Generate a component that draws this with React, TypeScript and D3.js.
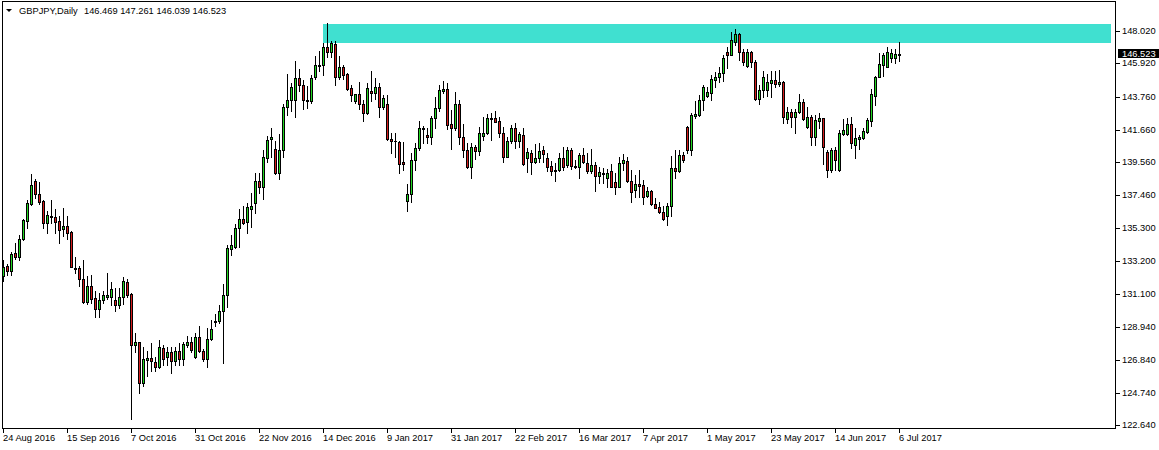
import { useEffect, useRef } from 'react'
import * as d3 from 'd3'

const W = 1159
const H = 450

// GBPJPY daily, 24 Aug 2016 .. 6 Jul 2017
const opens = [
  132.23, 132.88, 132.54, 133.69, 133.47, 134.59, 135.79, 136.86, 138.34, 137.49,
  137.04, 135.66, 136.05, 136.01, 135.75, 135.24, 135.45, 135.08, 132.75, 132.73,
  132.06, 130.58, 131.59, 130.82, 130.09, 130.69, 130.90, 130.86, 130.69, 130.39,
  130.86, 131.85, 131.08, 127.82, 127.99, 125.33, 126.83, 126.96, 126.70, 126.40,
  127.58, 127.01, 127.35, 126.75, 127.39, 126.92, 127.82, 127.99, 127.01, 128.29,
  127.43, 126.92, 128.20, 129.28, 129.36, 130.00, 130.99, 133.99, 134.12, 135.30,
  135.88, 135.69, 136.56, 136.91, 138.32, 137.98, 139.80, 141.02, 140.38, 138.84,
  140.34, 143.08, 143.55, 143.55, 144.95, 144.51, 143.55, 143.47, 145.05, 145.76,
  145.78, 146.94, 146.66, 147.13, 145.05, 145.65, 145.22, 144.30, 143.51, 143.94,
  143.29, 142.73, 144.15, 144.02, 144.37, 143.08, 143.29, 141.06, 140.89, 140.85,
  139.55, 137.08, 137.51, 139.69, 140.46, 141.75, 141.30, 141.19, 142.37, 143.02,
  144.15, 144.24, 141.99, 141.77, 143.27, 141.19, 140.32, 139.22, 140.51, 140.29,
  141.25, 141.41, 142.37, 142.37, 142.18, 141.41, 139.90, 140.91, 141.73, 140.93,
  141.30, 139.80, 140.12, 139.54, 139.80, 140.34, 139.80, 139.31, 138.98, 139.05,
  139.80, 139.37, 140.34, 139.31, 139.26, 140.01, 139.48, 139.00, 139.35, 138.68,
  138.84, 138.52, 138.98, 138.26, 137.98, 139.48, 139.61, 138.36, 137.76, 138.15,
  138.08, 137.38, 137.70, 136.84, 136.65, 136.33, 136.11, 136.75, 139.18, 139.00,
  139.99, 141.79, 140.34, 142.52, 142.61, 143.55, 143.81, 144.02, 144.84, 145.01,
  145.27, 146.62, 146.46, 147.30, 147.78, 146.66, 145.74, 146.66, 146.01, 143.60,
  144.19, 144.19, 144.66, 144.84, 144.58, 144.71, 142.31, 142.76, 142.48, 142.76,
  143.44, 141.79, 142.48, 141.15, 142.22, 142.37, 140.19, 139.05, 140.34, 139.05,
  141.36, 141.36, 141.99, 140.66, 141.06, 141.09, 141.51, 142.22, 143.83, 145.05,
  145.80, 145.69, 146.23, 146.23, 146.469,
]
const highs = [
  133.26, 133.00, 133.80, 134.34, 134.85, 135.88, 137.12, 138.79, 138.47, 138.26,
  137.12, 136.41, 137.12, 136.56, 136.09, 136.59, 136.09, 135.15, 133.44, 132.88,
  133.26, 132.23, 132.30, 131.29, 131.16, 131.29, 132.41, 131.87, 131.44, 131.44,
  132.19, 132.02, 131.16, 128.55, 128.01, 127.69, 127.43, 127.94, 127.04, 128.12,
  127.82, 127.69, 127.65, 127.65, 127.91, 127.99, 128.38, 128.33, 128.55, 129.02,
  127.56, 128.89, 129.40, 129.79, 130.35, 131.72, 134.25, 134.85, 135.58, 136.52,
  136.73, 136.91, 137.59, 138.84, 138.84, 140.34, 141.24, 141.73, 140.89, 141.36,
  143.29, 145.22, 144.62, 146.04, 145.56, 144.84, 144.45, 145.16, 146.38, 146.72,
  147.20, 148.48, 147.36, 147.32, 146.38, 145.82, 145.27, 144.51, 143.95, 144.71,
  143.55, 144.66, 145.43, 144.95, 144.62, 143.87, 143.87, 141.45, 141.45, 140.93,
  140.87, 138.15, 140.12, 140.77, 142.18, 141.88, 141.73, 142.52, 143.72, 144.50,
  144.75, 144.62, 142.91, 144.08, 143.55, 141.99, 140.77, 140.80, 140.66, 141.83,
  142.44, 142.65, 142.69, 142.86, 142.48, 141.83, 141.15, 141.92, 142.09, 141.51,
  141.77, 140.44, 140.34, 140.72, 140.77, 140.61, 140.12, 139.63, 139.48, 140.12,
  140.51, 140.51, 140.44, 139.69, 140.16, 140.44, 140.12, 140.42, 139.58, 139.26,
  139.16, 139.09, 139.43, 138.84, 139.90, 140.06, 139.90, 139.05, 138.73, 139.05,
  138.41, 137.98, 137.76, 137.27, 137.01, 136.75, 136.95, 139.97, 140.34, 140.34,
  140.23, 141.90, 142.69, 143.51, 143.87, 144.51, 144.41, 145.16, 145.37, 145.69,
  146.46, 146.98, 147.90, 148.12, 147.84, 146.81, 146.81, 146.72, 146.12, 144.51,
  145.42, 145.22, 145.42, 145.43, 145.48, 144.77, 143.08, 142.95, 142.95, 143.92,
  143.59, 143.08, 142.59, 142.59, 142.73, 142.41, 140.34, 140.44, 140.55, 141.62,
  142.31, 142.37, 142.48, 141.73, 141.30, 141.77, 142.37, 144.24, 145.09, 146.55,
  146.59, 146.94, 146.81, 146.81, 147.261,
]
const lows = [
  131.93, 132.32, 132.32, 133.31, 133.26, 134.55, 135.34, 136.80, 137.27, 136.84,
  135.34, 134.98, 135.66, 135.02, 134.37, 134.81, 134.59, 132.79, 132.41, 131.61,
  130.52, 130.43, 130.52, 129.62, 129.58, 130.48, 130.74, 130.35, 130.00, 130.16,
  130.43, 130.90, 123.04, 127.37, 124.73, 125.16, 125.80, 126.14, 126.14, 126.35,
  126.53, 126.53, 126.02, 126.53, 126.53, 126.53, 127.65, 127.35, 126.96, 127.35,
  126.75, 126.40, 128.12, 129.02, 129.23, 126.62, 130.22, 133.58, 134.03, 134.12,
  135.58, 134.98, 135.37, 136.27, 137.59, 137.20, 139.58, 139.90, 138.79, 138.45,
  139.90, 142.61, 142.86, 142.48, 144.15, 142.95, 143.04, 143.34, 144.88, 145.43,
  145.18, 146.33, 146.33, 144.50, 144.88, 144.88, 144.19, 143.47, 143.34, 142.99,
  142.18, 142.65, 143.51, 143.63, 142.48, 142.95, 140.98, 140.16, 139.87, 138.88,
  139.05, 136.43, 137.01, 139.05, 140.34, 140.80, 140.77, 140.72, 141.75, 142.86,
  143.98, 141.67, 140.42, 141.62, 140.70, 139.90, 139.20, 138.52, 139.78, 140.01,
  140.98, 141.36, 140.98, 142.14, 141.19, 139.58, 139.88, 140.77, 140.44, 140.51,
  139.40, 138.94, 138.77, 139.48, 139.58, 139.58, 139.00, 138.73, 138.36, 139.00,
  139.05, 139.26, 139.09, 139.16, 138.52, 139.48, 138.88, 138.84, 137.72, 138.23,
  138.23, 137.98, 137.94, 137.49, 137.94, 139.05, 138.30, 137.01, 137.33, 137.33,
  136.86, 137.33, 136.82, 136.59, 136.27, 135.83, 135.51, 136.09, 138.53, 138.94,
  139.58, 140.12, 140.01, 142.41, 142.52, 142.91, 143.76, 143.55, 144.41, 144.73,
  144.79, 145.63, 146.42, 147.09, 146.12, 145.80, 145.69, 145.69, 143.55, 143.29,
  143.76, 143.81, 143.72, 144.41, 144.45, 142.09, 142.09, 141.79, 141.45, 142.69,
  142.26, 141.73, 140.66, 140.66, 141.73, 139.43, 138.62, 138.94, 139.05, 139.02,
  141.30, 141.30, 140.48, 139.80, 140.42, 141.02, 141.41, 141.88, 143.23, 145.03,
  145.09, 145.66, 146.01, 145.95, 146.039,
]
const closes = [
  132.83, 132.54, 133.63, 133.47, 134.59, 135.83, 136.91, 138.07, 137.49, 137.01,
  135.66, 136.14, 136.09, 135.71, 135.19, 135.45, 135.02, 132.83, 132.72, 132.02,
  130.58, 131.59, 130.77, 130.09, 130.69, 131.01, 131.03, 131.38, 130.39, 130.86,
  131.89, 131.03, 127.78, 127.99, 125.33, 126.88, 126.96, 126.75, 126.40, 127.65,
  126.92, 127.35, 126.75, 127.39, 126.92, 127.86, 127.99, 127.48, 128.29, 127.43,
  126.92, 128.20, 128.84, 129.36, 130.00, 130.99, 134.01, 134.21, 135.30, 135.88,
  135.62, 136.65, 136.73, 138.32, 137.98, 139.90, 140.98, 141.19, 138.88, 140.34,
  143.08, 143.55, 144.37, 144.95, 144.50, 143.55, 143.47, 144.95, 145.78, 145.80,
  146.94, 146.66, 147.20, 145.05, 145.65, 145.18, 144.28, 143.85, 143.94, 143.29,
  142.73, 144.30, 143.98, 144.37, 143.08, 143.68, 141.02, 140.89, 140.93, 139.44,
  139.42, 137.51, 139.69, 140.46, 141.75, 141.72, 141.19, 142.39, 143.02, 144.19,
  144.24, 141.96, 141.77, 143.27, 141.19, 140.32, 139.22, 140.51, 140.29, 141.41,
  141.41, 142.37, 142.33, 142.15, 141.41, 139.90, 140.91, 141.73, 140.93, 141.36,
  139.42, 140.19, 139.54, 139.84, 140.27, 140.06, 139.26, 138.98, 139.05, 139.80,
  139.22, 140.34, 139.31, 139.28, 140.01, 139.58, 139.00, 139.35, 138.68, 138.90,
  138.78, 138.88, 137.98, 137.98, 139.48, 139.69, 138.36, 137.65, 138.13, 138.04,
  137.29, 137.70, 136.84, 136.63, 136.33, 135.88, 136.75, 139.16, 139.00, 139.99,
  139.69, 140.34, 142.57, 142.65, 143.53, 144.37, 144.06, 144.88, 145.01, 145.31,
  146.23, 146.46, 147.39, 147.78, 146.66, 146.01, 146.66, 146.01, 143.60, 144.19,
  145.01, 144.69, 144.84, 144.58, 144.71, 142.48, 142.76, 142.48, 142.76, 143.44,
  142.31, 142.48, 141.19, 142.26, 142.37, 140.55, 139.05, 140.34, 139.69, 141.41,
  141.62, 141.99, 140.77, 141.09, 141.19, 141.56, 142.26, 143.94, 145.05, 145.87,
  146.44, 146.62, 146.59, 146.51, 146.523,
]

const priceTicks = [148.02, 145.92, 143.76, 141.66, 139.56, 137.46, 135.3, 133.2, 131.1, 128.94, 126.84, 124.74, 122.64]
const holidays = ['2016-12-26', '2017-01-02']
const labelEvery = 16

// supply zone drawn on the chart (bar index from/to, price bottom/top)
const zoneBars = [80, 277]
const zonePrices = [147.22, 148.44]

const headerText = '146.469 147.261 146.039 146.523'
const lastPrice = 146.523

const BULL = '#22d622'
const BEAR = '#d41c1c'
const FONT = '"Liberation Sans", Arial, sans-serif'
const FS = 9.3

function tradingDays(n: number) {
  const out: Date[] = []
  const iso = d3.timeFormat('%Y-%m-%d')
  let d = new Date(2016, 7, 24)
  while (out.length < n) {
    const wd = d.getDay()
    if (wd !== 0 && wd !== 6 && !holidays.includes(iso(d))) out.push(d)
    d = d3.timeDay.offset(d, 1)
  }
  return out
}

export default function App() {
  const svgRef = useRef<SVGSVGElement | null>(null)

  useEffect(() => {
    const svg = d3.select(svgRef.current)
    svg.selectAll('*').remove()

    const bars = opens.map((o, i) => ({ i, o, h: highs[i], l: lows[i], c: closes[i] }))
    const dates = tradingDays(bars.length)
    const fmt = d3.timeFormat('%-d %b %Y')

    const x = d3.scaleLinear().domain([0, bars.length - 1]).range([3, 3 + 4 * (bars.length - 1)])
    const y = d3.scaleLinear().domain([122.64, 148.02]).range([425.3, 30.6]).interpolate(d3.interpolateRound)

    svg.append('rect').attr('width', W).attr('height', H).attr('fill', '#fff')

    // zone
    svg.append('rect')
      .attr('x', x(zoneBars[0]))
      .attr('y', y(zonePrices[1]))
      .attr('width', x(zoneBars[1]) - x(zoneBars[0]))
      .attr('height', y(zonePrices[0]) - y(zonePrices[1]))
      .attr('fill', '#40e0d0')

    // candles: wick, black body, coloured core
    const g = svg.append('g').attr('shape-rendering', 'crispEdges')
    bars.forEach(b => {
      const cx = x(b.i)
      const top = y(Math.max(b.o, b.c))
      const bot = y(Math.min(b.o, b.c))
      g.append('rect').attr('x', cx).attr('y', y(b.h)).attr('width', 1)
        .attr('height', Math.max(1, y(b.l) - y(b.h) + 1)).attr('fill', '#000')
      g.append('rect').attr('x', cx - 1).attr('y', top).attr('width', 3)
        .attr('height', bot - top + 1).attr('fill', '#000')
      if (bot - top > 1) {
        g.append('rect').attr('x', cx).attr('y', top + 1).attr('width', 1)
          .attr('height', bot - top - 1).attr('fill', b.c >= b.o ? BULL : BEAR)
      }
    })

    // frame
    svg.append('rect')
      .attr('x', 2.5).attr('y', 1.5).attr('width', 1113).attr('height', 427)
      .attr('fill', 'none').attr('stroke', '#000')

    // price axis
    const yAxis = svg.append('g')
      .attr('transform', 'translate(1116,0)')
      .call(d3.axisRight(y).tickValues(priceTicks).tickSize(4).tickPadding(2).tickFormat(d3.format('.3f')))
    yAxis.select('.domain').remove()
    yAxis.selectAll('text').attr('font-family', FONT).attr('font-size', FS).attr('fill', '#000')

    // time axis
    const labelIdx = bars.map(b => b.i).filter(i => i % labelEvery === 0)
    const xAxis = svg.append('g')
      .attr('transform', 'translate(0,429)')
      .call(d3.axisBottom(x).tickValues(labelIdx).tickSize(4).tickFormat((i: any) => fmt(dates[i])))
    xAxis.select('.domain').remove()
    xAxis.selectAll('text')
      .attr('font-family', FONT).attr('font-size', FS).attr('fill', '#000')
      .attr('text-anchor', 'start').attr('x', -0.5).attr('y', 12).attr('dy', 0)

    // last price marker
    const ly = y(lastPrice)
    svg.append('rect').attr('x', 1118).attr('y', ly - 5).attr('width', 41).attr('height', 9).attr('fill', '#000')
    svg.append('text').attr('x', 1122).attr('y', ly + 3)
      .attr('font-family', FONT).attr('font-size', FS).attr('fill', '#fff')
      .text(d3.format('.3f')(lastPrice))

    // header
    svg.append('path').attr('d', 'M6,9 L12,9 L9,12 Z').attr('fill', '#000')
    svg.append('text').attr('x', 19).attr('y', 14)
      .attr('font-family', FONT).attr('font-size', FS).attr('fill', '#000')
      .text('GBPJPY,Daily')
    svg.append('text').attr('x', 84).attr('y', 14)
      .attr('font-family', FONT).attr('font-size', FS).attr('fill', '#000')
      .text(headerText)
  }, [])

  return <svg ref={svgRef} width={W} height={H} style={{ position: 'absolute', left: 0, top: 0 }} />
}
